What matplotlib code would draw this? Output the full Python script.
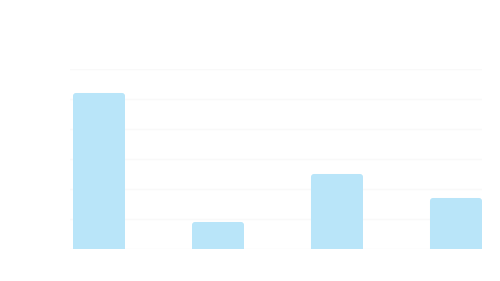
import matplotlib
matplotlib.use("Agg")
import matplotlib.pyplot as plt
from matplotlib.patches import FancyBboxPatch

categories = ["A", "B", "C", "D"]
values = [52, 9, 25, 17]
yticks = [0, 10, 20, 30, 40, 50, 60]

fig = plt.figure(figsize=(5, 2.81), dpi=100)
ax = fig.add_axes([0.14, 0.1139, 0.824, 0.6406])
x = list(range(len(categories)))
bars = ax.bar(x, values, width=0.437, color="#b9e5f9", zorder=2)
ax.set_xlim(-0.2437, 3.2185)
ax.set_ylim(0, 60)
ax.set_yticks(yticks)
ax.grid(axis="y", color="#f9f9f9", linewidth=1, zorder=0)
ax.tick_params(left=False, bottom=False, labelleft=False, labelbottom=False)
for s in ax.spines.values():
    s.set_visible(False)

# rounded tops
r = 0.025
aspect = (60 / 180) / (3.4622 / 412)
for b in bars:
    b.set_visible(False)
    x0, w, h = b.get_x(), b.get_width(), b.get_height()
    p = FancyBboxPatch((x0, -5), w, h + 5,
                       boxstyle=f"round,pad=0,rounding_size={r}",
                       mutation_aspect=aspect, facecolor="#b9e5f9",
                       edgecolor="none", zorder=2)
    ax.add_patch(p)

fig.savefig("out.png", dpi=100)
